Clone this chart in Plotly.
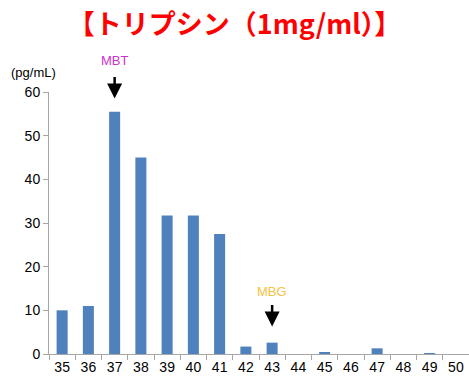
import plotly.graph_objects as go

categories = ["35", "36", "37", "38", "39", "40", "41", "42", "43", "44", "45", "46", "47", "48", "49", "50"]
values = [10, 11, 55.5, 45, 31.7, 31.7, 27.5, 1.7, 2.6, 0, 0.3, 0, 1.3, 0, 0.2, 0]
y_ticks = [0, 10, 20, 30, 40, 50, 60]
title_text = "【トリプシン（1mg/ml）】"
unit_text = "(pg/mL)"
# (category, label, colour, arrow tip value, label y in paper units)
markers = [("37", "MBT", "#CC33CC", 58.5, 1.122), ("43", "MBG", "#F5C242", 6.3, 0.237)]

fig = go.Figure()
fig.add_trace(go.Bar(x=categories, y=values, marker=dict(color="#4F81BD", line=dict(width=0)), width=0.42))

for cat, label, col, tip, ty in markers:
    idx = categories.index(cat)
    fig.add_annotation(x=idx, y=tip, xref="x", yref="y", text="", showarrow=True,
                       ax=0, ay=-23, arrowhead=2, arrowsize=1.2, arrowwidth=2.5, arrowcolor="black")
    fig.add_annotation(x=idx, y=ty, xref="x", yref="paper", text=label, showarrow=False,
                       xanchor="center", yanchor="middle",
                       font=dict(family="Liberation Sans, Arial", size=13, color=col))

fig.add_annotation(x=-0.036, y=1.076, xref="paper", yref="paper", text=unit_text, showarrow=False,
                   xanchor="center", yanchor="middle",
                   font=dict(family="Liberation Sans, Arial", size=13, color="black"))

fig.update_layout(
    width=469, height=377,
    margin=dict(l=49, r=0, t=92, b=23, autoexpand=False),
    paper_bgcolor="white", plot_bgcolor="white",
    showlegend=False,
    title=dict(text=title_text, x=0.5, xanchor="center", y=0.935, yanchor="middle",
               font=dict(family="Noto Sans CJK JP", size=27, color="#FF0000", weight="bold")),
    xaxis=dict(type="category", range=[-0.5, 15.5], tickson="boundaries", ticks="outside", ticklen=5,
               tickcolor="#A6A6A6", tickangle=0, automargin=False,
               showline=True, linecolor="#A6A6A6", linewidth=1, showgrid=False,
               tickfont=dict(family="Liberation Sans, Arial", size=14, color="black")),
    yaxis=dict(range=[0, 60], tickvals=y_ticks, ticks="outside", ticklen=5, tickcolor="#A6A6A6",
               automargin=False,
               showline=True, linecolor="#A6A6A6", linewidth=1, showgrid=False, zeroline=False,
               tickfont=dict(family="Liberation Sans, Arial", size=14, color="black")),
)

fig.write_html("out.html", config={"displayModeBar": False},
               post_script="document.body.style.margin='0';document.body.style.overflow='hidden';")
